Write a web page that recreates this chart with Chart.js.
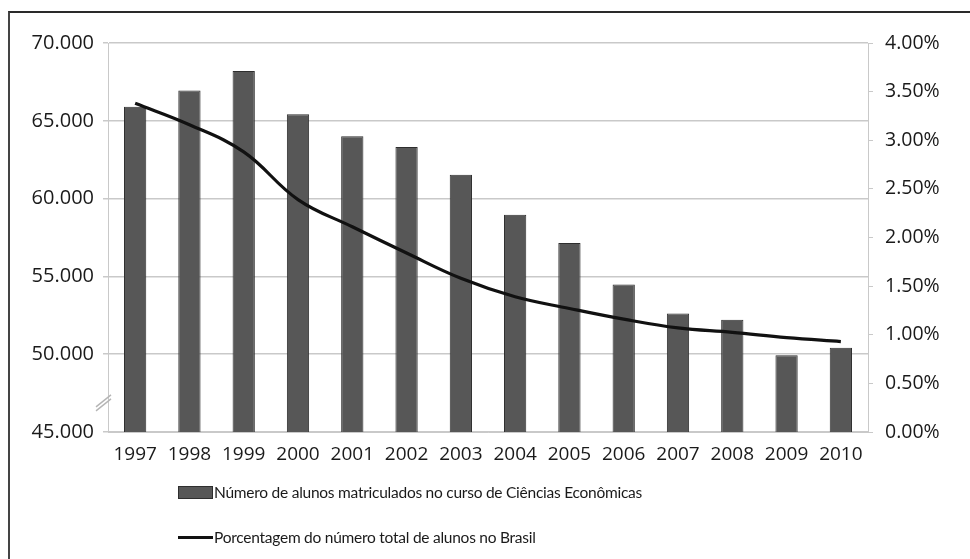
<!DOCTYPE html>
<html>
<head>
<meta charset="utf-8">
<script src="https://cdn.jsdelivr.net/npm/chart.js@4"></script>
<style>
  html, body { margin: 0; padding: 0; background: #fff; }
  #wrap { position: relative; width: 970px; height: 559px; overflow: hidden; }
  #frame {
    position: absolute; left: 8px; top: 11px; width: 1000px; height: 600px;
    border-top: 2px solid #2a2a2a; border-left: 2px solid #444;
    pointer-events: none;
  }
  #legend {
    position: absolute; left: 178px; top: 478px;
    font-family: Lato, "Open Sans", sans-serif; font-size: 15.5px;
    letter-spacing: -0.25px; color: #1a1a1a;
  }
  .item { display: flex; align-items: center; height: 28px; margin-bottom: 17px; }
  .swatch { width: 35px; margin-right: 1px; }
</style>
</head>
<body>
<div id="wrap">
  <canvas id="chart" width="970" height="559"></canvas>
  <div id="frame"></div>
  <div id="legend"></div>
</div>
<script>
// Enrolment in economics courses (left axis) and share of all students (right axis)
const years = ["1997", "1998", "1999", "2000", "2001", "2002", "2003",
               "2004", "2005", "2006", "2007", "2008", "2009", "2010"];
const enrolled = [65900, 66950, 68200, 65420, 64000, 63310, 61530,
                  58960, 57140, 54480, 52620, 52210, 49940, 50410];
const sharePct = [3.38, 3.16, 2.88, 2.39, 2.11, 1.84, 1.58,
                  1.39, 1.27, 1.16, 1.07, 1.025, 0.97, 0.93];

const LABEL_BARS = "Número de alunos matriculados no curso de Ciências Econômicas";
const LABEL_LINE = "Porcentagem do número total de alunos no Brasil";

const FONT = "'Open Sans', sans-serif";
const GRID = "#c9c9c9";

// Little "//" break marker on the left axis, below the 50.000 line
const axisBreak = {
    id: "axisBreak",
    afterDraw(chart) {
        const y = chart.scales.y;
        const cy = y.getPixelForValue(47000);
        const x = y.right;
        const ctx = chart.ctx;
        ctx.save();
        ctx.strokeStyle = "#b5b5b5";
        ctx.lineWidth = 1.5;
        for (const off of [0, 4]) {
            ctx.beginPath();
            ctx.moveTo(x - 12, cy + 6 + off);
            ctx.lineTo(x + 3, cy - 6 + off);
            ctx.stroke();
        }
        ctx.restore();
    },
};

const chart = new Chart(document.getElementById("chart"), {
    data: {
        labels: years,
        datasets: [
            {
                type: "line",
                label: LABEL_LINE,
                data: sharePct,
                yAxisID: "y1",
                borderColor: "#111",
                borderWidth: 3.2,
                pointRadius: 0,
                tension: 0.4,
                fill: false,
                order: 0,
            },
            {
                type: "bar",
                label: LABEL_BARS,
                data: enrolled,
                yAxisID: "y",
                backgroundColor: "#575757",
                borderColor: "#2e2e2e",
                borderWidth: 1,
                barPercentage: 0.41,
                categoryPercentage: 1,
                order: 1,
            },
        ],
    },
    options: {
        responsive: false,
        animation: false,
        layout: { padding: { left: 0, top: 43, right: 0, bottom: 0 } },
        plugins: {
            legend: { display: false },
            tooltip: { enabled: false },
        },
        scales: {
            x: {
                grid: { display: false },
                border: { color: GRID },
                ticks: {
                    color: "#1a1a1a",
                    font: { family: FONT, size: 19 },
                    padding: 3,
                    maxRotation: 0,
                    autoSkip: false,
                },
                afterFit(s) { s.height = 127; },
            },
            y: {
                position: "left",
                min: 45000,
                max: 70000,
                grid: { color: GRID, tickLength: 5, lineWidth: 1.5 },
                border: { color: GRID },
                ticks: {
                    stepSize: 5000,
                    color: "#1a1a1a",
                    font: { family: FONT, size: 20 },
                    padding: 9,
                    callback: v => v.toLocaleString("pt-BR"),
                },
                afterFit(s) { s.width = 108; },
            },
            y1: {
                position: "right",
                min: 0,
                max: 4,
                grid: { drawOnChartArea: false, color: GRID, tickLength: 5 },
                border: { color: GRID },
                ticks: {
                    stepSize: 0.5,
                    color: "#1a1a1a",
                    font: { family: FONT, size: 19.5 },
                    padding: 12,
                    callback: v => v.toFixed(2) + "%",
                },
                afterFit(s) { s.width = 102; },
            },
        },
    },
    plugins: [axisBreak],
});

// Two-row legend under the chart, built from the datasets
const legendEl = document.getElementById("legend");
[1, 0].forEach(i => {
    const ds = chart.data.datasets[i];
    const row = document.createElement("div");
    row.className = "item";
    const sw = document.createElement("span");
    sw.className = "swatch";
    if (ds.type === "bar") {
        sw.style.height = "13px";
        sw.style.background = ds.backgroundColor;
        sw.style.boxShadow = "inset 0 0 0 1px " + ds.borderColor;
    } else {
        sw.style.height = "3px";
        sw.style.background = ds.borderColor;
    }
    const txt = document.createElement("span");
    txt.textContent = ds.label;
    row.appendChild(sw);
    row.appendChild(txt);
    legendEl.appendChild(row);
});
</script>
</body>
</html>
